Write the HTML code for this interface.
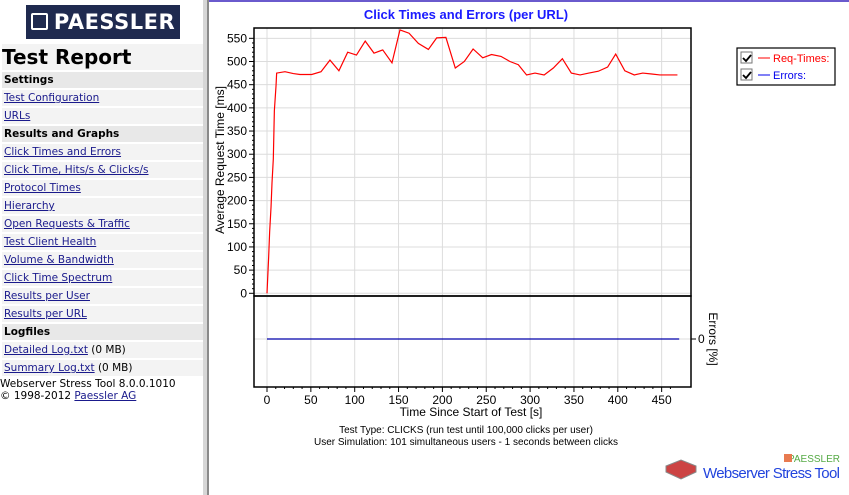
<!DOCTYPE html>
<html><head><meta charset="utf-8"><style>
body{margin:0;width:849px;height:495px;overflow:hidden;background:#fff;font-family:"DejaVu Sans","Liberation Sans",sans-serif;position:relative}
#side{position:absolute;left:0;top:0;width:203px;height:495px;background:#fff}
.logo{position:absolute;left:26px;top:5px;width:154px;height:34px;background:#1f2a4f;color:#fff;font:bold 21px "DejaVu Sans",sans-serif;line-height:34px;text-align:center;letter-spacing:0.5px}
.logo span{display:inline-block;width:13px;height:13px;border:2px solid #fff;margin-right:6px;vertical-align:-1px;border-radius:2px}
.title{position:absolute;left:2px;top:44px;width:201px;height:26px;background:#f3f3f3;font:bold 20px "DejaVu Sans",sans-serif;line-height:26px}
.row{position:absolute;left:2px;width:201px;height:16px;background:#f3f3f3;font-size:10.5px;line-height:16px;padding-left:2px;box-sizing:border-box;white-space:nowrap}
.row a{color:#1a1a8c;text-decoration:underline}
.hdr{background:#e8e8e8;font-weight:bold;color:#000}
.foot{position:absolute;left:0;font-size:10.5px;line-height:12px;white-space:nowrap}
.foot a{color:#1a1a8c}
#sep{position:absolute;left:203px;top:0;width:6px;height:495px;background:#d6d6d6;border-right:2px solid #8a8a8a;box-sizing:border-box}
#topline{position:absolute;left:209px;top:0;width:640px;height:2px;background:#6a5acd}
svg text{font-family:"Liberation Sans",sans-serif}
</style></head><body>
<div id="side">
<div class="logo"><span></span>PAESSLER</div>
<div class="title">Test Report</div>
<div class="row hdr" style="top:72px">Settings</div>
<div class="row" style="top:90px"><a>Test Configuration</a></div>
<div class="row" style="top:108px"><a>URLs</a></div>
<div class="row hdr" style="top:126px">Results and Graphs</div>
<div class="row" style="top:144px"><a>Click Times and Errors</a></div>
<div class="row" style="top:162px"><a>Click Time, Hits/s &amp; Clicks/s</a></div>
<div class="row" style="top:180px"><a>Protocol Times</a></div>
<div class="row" style="top:198px"><a>Hierarchy</a></div>
<div class="row" style="top:216px"><a>Open Requests &amp; Traffic</a></div>
<div class="row" style="top:234px"><a>Test Client Health</a></div>
<div class="row" style="top:252px"><a>Volume &amp; Bandwidth</a></div>
<div class="row" style="top:270px"><a>Click Time Spectrum</a></div>
<div class="row" style="top:288px"><a>Results per User</a></div>
<div class="row" style="top:306px"><a>Results per URL</a></div>
<div class="row hdr" style="top:324px">Logfiles</div>
<div class="row" style="top:342px"><a>Detailed Log.txt</a> (0 MB)</div>
<div class="row" style="top:360px"><a>Summary Log.txt</a> (0 MB)</div>
<div class="foot" style="top:378px">Webserver Stress Tool 8.0.0.1010</div>
<div class="foot" style="top:390px">© 1998-2012 <a style="text-decoration:underline">Paessler AG</a></div>
</div>
<div id="sep"></div>
<div id="topline"></div>
<svg id="chart" width="849" height="495" style="position:absolute;left:0;top:0"></svg>
<script>
const times=[0,1.9,3,4.6,5.7,7.2,8.4,10.3,11,20.5,30,37.6,51,61.6,71.8,82,92,102,112,122,132,142.5,151.6,162,172.6,184,193.5,204,214.7,225,235,246,256,266.8,277,286.6,296,305.6,316,326.5,336.8,347,357,367,377.8,388.4,397.6,408,418.8,428.4,438.6,448,468];
const reqTimes=[0,79,132,186,238,290,394,448,475,478,474,472,472,478,503,480,520,514,544,518,525,497,568,561,539,526,551,552,486,500,527,508,515,511,500,493,471,475,471,486,506,475,471,475,479,488,516,480,471,475,473,471,471];
const errors=[0,0];
const errTimes=[0,470];
const yTicks=[0,50,100,150,200,250,300,350,400,450,500,550];
const xTicks=[0,50,100,150,200,250,300,350,400,450];
const NS='http://www.w3.org/2000/svg';
const svg=document.getElementById('chart');
const L=254,R=691,T=28,B=296,B2=387;
const xs=t=>267+t*0.877;
const ys=v=>293.3-v*0.4636;
const ye=v=>339-v*20;
function el(tag,a,parent){const e=document.createElementNS(NS,tag);for(const k in a)e.setAttribute(k,a[k]);(parent||svg).appendChild(e);return e;}
// title
let t=el('text',{x:466,y:19,'text-anchor':'middle','font-size':13,'font-weight':'bold',fill:'#1a1aff'});t.textContent='Click Times and Errors (per URL)';


// grid
xTicks.forEach(v=>{const g=el('line',{x1:xs(v),x2:xs(v),y1:T,y2:B2,stroke:'#dcdcdc'});


const tk=el('line',{x1:xs(v),x2:xs(v),y1:B2,y2:B2+5,stroke:'#000'});


const lb=el('text',{x:xs(v),y:404,'text-anchor':'middle','font-size':12});lb.textContent=v;

});
for(let v=10;v<470;v+=10){if(v%50){const m=el('line',{x1:xs(v),x2:xs(v),y1:B2,y2:B2+2,stroke:'#000'});}}
yTicks.forEach(v=>{const g=el('line',{x1:L,x2:R,y1:ys(v),y2:ys(v),stroke:'#dcdcdc'});


const tk=el('line',{x1:L-5,x2:L,y1:ys(v),y2:ys(v),stroke:'#000'});


const lb=el('text',{x:L-7,y:ys(v)+4,'text-anchor':'end','font-size':12});lb.textContent=v;

});
for(let v=10;v<560;v+=10){if(v%50){const m=el('line',{x1:L-2,x2:L,y1:ys(v),y2:ys(v),stroke:'#000'});}}
// lower grid line at error 0
const eg=el('line',{x1:L,x2:R,y1:ye(0),y2:ye(0),stroke:'#dcdcdc'});


// frames
const f1=el('rect',{x:L,y:T,width:R-L,height:B-T,fill:'none',stroke:'#000','stroke-width':1.5});


const f2=el('rect',{x:L,y:B,width:R-L,height:B2-B,fill:'none',stroke:'#000','stroke-width':1.5});


// series
const p=el('polyline',{points:times.map((x,i)=>xs(x)+','+ys(reqTimes[i])).join(' '),fill:'none',stroke:'#ff0000','stroke-width':1.2});


const pe=el('polyline',{points:errTimes.map((x,i)=>xs(x)+','+ye(errors[i])).join(' '),fill:'none',stroke:'#0000aa','stroke-width':1.2});


// right axis
const rt=el('line',{x1:R,x2:R+5,y1:ye(0),y2:ye(0),stroke:'#000'});


const rl=el('text',{x:R+7,y:ye(0)+4,'font-size':12});rl.textContent='0';


const rtitle=el('text',{x:0,y:0,'font-size':12,'text-anchor':'middle',transform:'translate(709,339) rotate(90)'});rtitle.textContent='Errors [%]';


const ytitle=el('text',{x:0,y:0,'font-size':12,'text-anchor':'middle',transform:'translate(224,160) rotate(-90)'});ytitle.textContent='Average Request Time [ms]';


const xtitle=el('text',{x:471,y:416,'font-size':12,'text-anchor':'middle'});xtitle.textContent='Time Since Start of Test [s]';


const n1=el('text',{x:466,y:433,'font-size':10,'text-anchor':'middle'});n1.textContent='Test Type: CLICKS (run test until 100,000 clicks per user)';


const n2=el('text',{x:466,y:445,'font-size':10,'text-anchor':'middle'});n2.textContent='User Simulation: 101 simultaneous users - 1 seconds between clicks';


// legend
const lg=el('rect',{x:737,y:48,width:98,height:37,fill:'#fff',stroke:'#000','stroke-width':1.2});


[['Req-Times:','#ff0000',58],['Errors:','#0000ee',75]].forEach(([name,c,y],i)=>{
const cb=el('rect',{x:741,y:y-6,width:11,height:11,fill:'#fff',stroke:'#777'});


const ck=el('path',{d:`M743 ${y} l3 3 l5 -6`,stroke:'#000','stroke-width':1.8,fill:'none'});


const ln=el('line',{x1:758,x2:770,y1:y,y2:y,stroke:c});


const tx=el('text',{x:773,y:y+4,'font-size':11,fill:c});tx.textContent=name;

});
// brand
const b1=el('text',{x:840,y:462,'font-size':10,'text-anchor':'end',fill:'#55aa44'});b1.textContent='PAESSLER';


const bi=el('rect',{x:784,y:454,width:8,height:8,fill:'#e87a50'});


const b2=el('text',{x:840,y:478,'font-size':15,'text-anchor':'end',fill:'#2244dd',textLength:137});b2.textContent='Webserver Stress Tool';


const srv=el('path',{d:'M666 466 l15 -6 l15 6 l0 6 l-15 7 l-15 -7z',fill:'#cc4444',stroke:'#888'});


</script>
</body></html>
